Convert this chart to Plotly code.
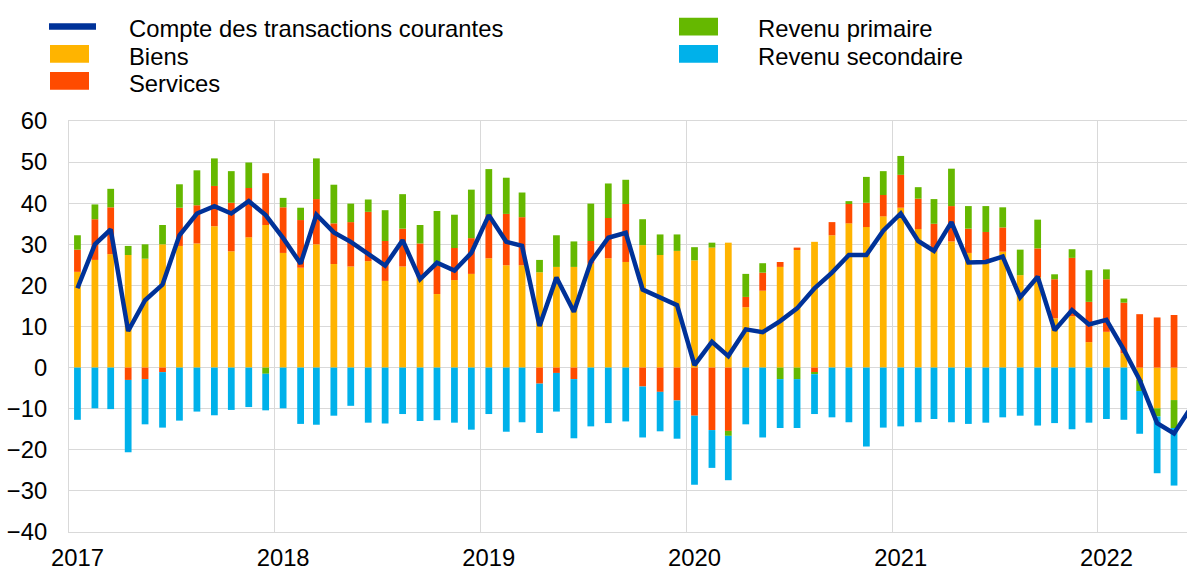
import plotly.graph_objects as go
import pandas as pd

# ---------------- data (billions EUR, monthly) ----------------
months = pd.date_range("2017-01-01", "2022-05-01", freq="MS")
line_months = pd.date_range("2017-01-01", "2022-06-01", freq="MS")

biens = [23.3, 26.2, 27.6, 27.4, 26.5, 30.0, 29.6, 30.2, 34.4, 28.3, 31.7, 34.7,
         27.9, 24.3, 30.0, 25.2, 24.6, 25.9, 21.1, 24.6, 21.9, 17.9, 21.3, 22.8,
         26.6, 24.9, 24.9, 23.2, 24.5, 24.5, 25.3, 26.6, 25.7, 29.8, 27.4, 28.4,
         26.1, 29.2, 30.4, 14.7, 18.7, 24.5, 28.6, 30.6, 32.2, 35.1, 34.2, 36.8,
         38.9, 33.7, 28.2, 30.7, 27.9, 25.6, 28.2, 22.5, 22.0, 12.0, 12.5, 6.2,
         8.7, 3.5, -3.0, -9.9, -7.9]

services = [5.4, 9.9, 11.4, -3.0, -2.8, -1.1, 9.3, 9.3, 9.8, 11.8, 12.0, 12.6,
            11.1, 11.6, 11.0, 9.9, 10.8, 12.0, 9.7, 9.2, 8.3, 6.9, 7.8, 8.7,
            10.5, 12.5, 11.7, -3.9, -1.3, -2.8, 5.5, 9.8, 14.1, -4.6, -5.9, -8.0,
            -11.7, -15.2, -15.4, 2.5, 4.4, 1.2, 0.6, -1.2, 3.2, 4.7, 5.9, 5.2,
            8.0, 7.4, 6.8, 8.6, 5.9, 7.4, 5.9, 0.0, 7.0, 9.5, 14.2, 9.8,
            12.8, 12.3, 13.0, 12.2, 12.8]

revenu_primaire = [3.5, 3.6, 4.5, 2.2, 3.5, 4.7, 5.7, 8.5, 6.7, 7.7, 6.2, -1.5,
                   2.3, 3.0, 9.9, 9.4, 4.5, 3.0, 7.5, 8.4, 4.5, 13.3, 8.1, 11.8,
                   11.2, 8.8, 6.0, 3.0, 7.7, 6.2, 9.1, 8.4, 5.9, 6.3, 5.0, 4.0,
                   3.2, 1.2, -1.2, 5.6, 2.3, -2.8, -2.8, -0.4, 0.0, 0.7, 6.3, 5.8,
                   4.6, 2.8, 6.0, 9.1, 5.5, 6.3, 4.9, 6.2, 7.0, 1.2, 2.1, 7.7,
                   2.4, 1.0, -2.7, -2.0, -6.8]

revenu_secondaire = [-12.7, -9.9, -10.1, -17.6, -11.0, -13.5, -12.9, -10.7, -11.6, -10.3, -9.6, -8.9,
                     -9.9, -13.7, -13.9, -11.7, -9.3, -13.4, -13.6, -11.3, -13.0, -12.8, -13.4, -15.1,
                     -11.3, -15.6, -13.3, -12.0, -9.4, -14.4, -14.3, -13.5, -13.1, -12.4, -9.6, -9.3,
                     -16.8, -9.2, -10.8, -13.8, -17.0, -11.9, -11.9, -9.7, -12.1, -13.3, -19.2, -14.6,
                     -14.3, -13.3, -12.5, -13.3, -13.7, -13.4, -12.1, -11.7, -14.1, -13.5, -15.0, -13.4,
                     -12.5, -12.7, -10.4, -13.8, -14.0]

compte_courant = [19.3, 30.0, 33.6, 8.9, 16.4, 20.2, 32.2, 37.5, 39.3, 37.5, 40.5, 37.1,
                  31.5, 25.3, 37.2, 32.9, 30.6, 27.5, 24.8, 31.0, 21.5, 25.5, 23.6, 27.9,
                  37.1, 30.6, 29.6, 10.1, 21.9, 13.6, 25.7, 31.6, 32.8, 19.0, 17.1, 15.2,
                  0.6, 6.3, 2.8, 9.3, 8.6, 11.3, 14.4, 19.3, 23.1, 27.4, 27.4, 33.3,
                  37.5, 30.8, 28.4, 35.4, 25.6, 25.7, 27.0, 17.1, 22.1, 9.1, 14.0, 10.5,
                  11.6, 4.3, -3.0, -13.5, -16.0, -9.5]

years = ["2017", "2018", "2019", "2020", "2021", "2022"]
y_ticks = [-40, -30, -20, -10, 0, 10, 20, 30, 40, 50, 60]

names = ["Compte des transactions courantes", "Biens", "Services",
         "Revenu primaire", "Revenu secondaire"]
colors = {"line": "#003299", "Biens": "#FFB400", "Services": "#FF4B00",
          "Revenu primaire": "#65B800", "Revenu secondaire": "#00B1EA"}

# ---------------- figure ----------------
W, H = 1187, 572
ML, MR, MT, MB = 69, 0, 121, 40
FONT = "Arial, Liberation Sans, sans-serif"
FS = 23.8

bar_x = months + pd.Timedelta(days=15)
line_x = line_months + pd.Timedelta(days=15)
bar_w = 12 * 86400000

fig = go.Figure()
for nm, vals in [("Biens", biens), ("Services", services),
                 ("Revenu primaire", revenu_primaire),
                 ("Revenu secondaire", revenu_secondaire)]:
    fig.add_trace(go.Bar(x=bar_x, y=vals, name=nm, width=bar_w,
                         marker=dict(color=colors[nm], line=dict(width=0)),
                         showlegend=False))
fig.add_trace(go.Scatter(x=line_x, y=compte_courant, name=names[0], mode="lines",
                         line=dict(color=colors["line"], width=4.5),
                         showlegend=False))

grid = "#d9d9d9"
fig.update_layout(
    width=W, height=H, barmode="relative",
    margin=dict(l=ML, r=MR, t=MT, b=MB, pad=0, autoexpand=False),
    paper_bgcolor="white", plot_bgcolor="white",
    font=dict(family=FONT, size=FS, color="#000000"),
    xaxis=dict(type="date", range=["2017-01-01", "2022-06-08"],
               tickmode="array",
               tickvals=[pd.Timestamp(f"{y}-01-16") for y in years],
               ticktext=years, showgrid=False, ticks="",
               ticklabelstandoff=4, automargin=False,
               minor=dict(dtick="M12", tick0="2017-01-01", showgrid=True,
                          gridcolor=grid, gridwidth=1, ticks=""),
               showline=True, linecolor=grid, linewidth=1, mirror=True,
               zeroline=False),
    yaxis=dict(range=[-40, 60], tickmode="array", tickvals=y_ticks,
               showgrid=True, gridcolor=grid, gridwidth=1, ticks="",
               ticklabelstandoff=16, automargin=False,
               showline=True, linecolor=grid, linewidth=1, mirror=True,
               zeroline=False),
)

# ---------------- legend (two columns, drawn in paper space) ----------------
PW, PH = W - ML - MR, H - MT - MB


def px(x):
    return (x - ML) / PW


def py(y):
    return (H - MB - y) / PH


shapes = []
# line symbol
shapes.append(dict(type="rect", xref="paper", yref="paper",
                   x0=px(49), x1=px(96), y0=py(29.7), y1=py(23.3),
                   fillcolor=colors["line"], line=dict(width=0)))
legend_rects = [("Biens", 50, 45.0), ("Services", 50, 72.0),
                ("Revenu primaire", 679, 17.7), ("Revenu secondaire", 679, 45.0)]
for nm, x0, y0 in legend_rects:
    shapes.append(dict(type="rect", xref="paper", yref="paper",
                       x0=px(x0), x1=px(x0 + 39), y0=py(y0 + 17.7), y1=py(y0),
                       fillcolor=colors[nm], line=dict(width=0)))
fig.update_layout(shapes=shapes)

legend_text = [(names[0], 127, 28.7), (names[1], 127, 56.3), (names[2], 127, 83.5),
               (names[3], 756, 28.7), (names[4], 756, 56.3)]
for txt, x, y in legend_text:
    fig.add_annotation(text=txt, xref="paper", yref="paper", x=px(x), y=py(y),
                       xanchor="left", yanchor="middle", showarrow=False,
                       font=dict(family=FONT, size=FS, color="#000000"))

fig.write_html("out.html")
